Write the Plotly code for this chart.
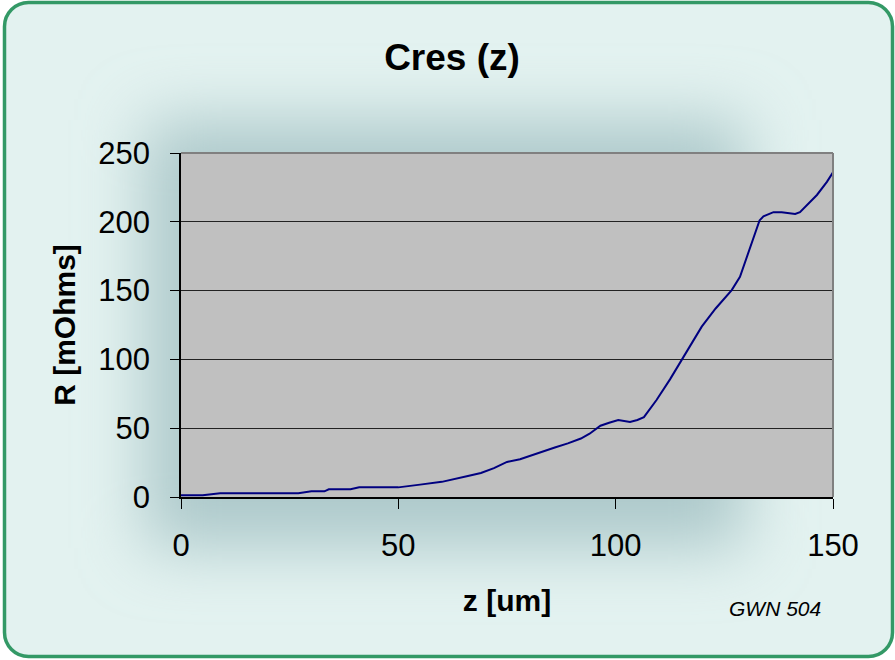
import base64
import plotly.graph_objects as go

# z position [um] and contact resistance [mOhms]
z_um = [0, 5, 9, 27, 30, 33, 34, 39, 41, 50, 55, 60, 66, 69, 72, 75, 78, 83, 86, 89,
        92, 94, 96.5, 98.5, 100.6, 103.3, 105, 106.5, 109.4, 112.5, 115.2, 119.8, 123,
        126.7, 128.6, 131.3, 133.1, 134, 136.3, 138.2, 141.3, 142.4, 146.3, 148.6, 150]
r_mohm = [1.2, 1.2, 2.7, 2.7, 4.1, 4.1, 5.6, 5.6, 7, 7, 9, 11, 15.3, 17.5, 21, 25.5, 27.5,
          33, 36, 39, 42.5, 46, 51.8, 54, 56, 54.5, 56, 58, 70.5, 85.5, 100, 123.8, 137,
          150.4, 160, 184, 201, 204, 207, 207, 205.7, 207, 219.5, 229, 236]

x_ticks = [0, 50, 100, 150]
y_ticks = [0, 50, 100, 150, 200, 250]

W, H = 895, 660
L, R, T, B = 181, 62, 153, 163
pw, ph = W - L - R, H - T - B

# background: rounded green frame with a soft glow behind the plot area
svg = f'''<svg xmlns="http://www.w3.org/2000/svg" width="{W}" height="{H}" viewBox="0 0 {W} {H}">
<defs><filter id="b" x="-50%" y="-50%" width="200%" height="200%"><feGaussianBlur stdDeviation="32"/></filter></defs>
<rect x="4.5" y="2.5" width="888" height="654" rx="24" fill="#e3f2f0"/>
<rect x="145" y="120" width="600" height="428" fill="#adc9cb" filter="url(#b)"/>
<rect x="4.5" y="2.5" width="888" height="654" rx="24" fill="none" stroke="#339966" stroke-width="3.5"/>
</svg>'''
bg = "data:image/svg+xml;base64," + base64.b64encode(svg.encode()).decode()

fig = go.Figure()
fig.add_trace(go.Scatter(x=z_um, y=r_mohm, mode="lines",
                         line=dict(color="#000080", width=2), showlegend=False))

fig.add_layout_image(source=bg, xref="paper", yref="paper",
                     x=-L / pw, y=1 + T / ph, sizex=W / pw, sizey=H / ph,
                     xanchor="left", yanchor="top", sizing="stretch", layer="below")

# gray plot area, drawn over the background picture
fig.add_shape(type="rect", xref="paper", yref="paper", x0=0, x1=1, y0=0, y1=1,
              fillcolor="#c0c0c0", line=dict(width=0), layer="below")
# gray frame on top and right of the plot area
fig.add_shape(type="line", xref="paper", yref="paper", x0=0, x1=1, y0=1, y1=1,
              line=dict(color="#808080", width=2))
fig.add_shape(type="line", xref="paper", yref="paper", x0=1, x1=1, y0=0, y1=1,
              line=dict(color="#808080", width=2))

fig.add_annotation(text="<i>GWN 504</i>", xref="paper", yref="paper",
                   x=(775 - L) / pw, y=-(608 - T - ph) / ph, showarrow=False,
                   xanchor="center", yanchor="middle",
                   font=dict(size=21, color="black"))

fig.update_layout(
    width=W, height=H,
    margin=dict(l=L, r=R, t=T, b=B),
    paper_bgcolor="white",
    plot_bgcolor="#c0c0c0",
    font=dict(family="Liberation Sans, Arial, sans-serif", color="black"),
    title=dict(text="<b>Cres (z)</b>", x=452 / W, xanchor="center",
               y=1 - 57 / H, yanchor="middle", font=dict(size=37)),
    xaxis=dict(range=[0, 150], tickvals=x_ticks, showgrid=False, zeroline=False,
               showline=True, linecolor="black", linewidth=1.5,
               ticks="outside", ticklen=10, tickcolor="black",
               tickfont=dict(size=31), ticklabelstandoff=10,
               title=dict(text="<b>z [um]</b>", font=dict(size=30), standoff=28)),
    yaxis=dict(range=[0, 250], tickvals=y_ticks, showgrid=True, gridcolor="#222222",
               gridwidth=1, zeroline=False, showline=True, linecolor="black",
               linewidth=1.5, ticks="outside", ticklen=9, tickcolor="black",
               tickfont=dict(size=31), ticklabelstandoff=14,
               title=dict(text="<b>R [mOhms]</b>", font=dict(size=30), standoff=14)),
)

fig.write_html("out.html", config={"displayModeBar": False},
               post_script="document.body.style.margin='0';")
